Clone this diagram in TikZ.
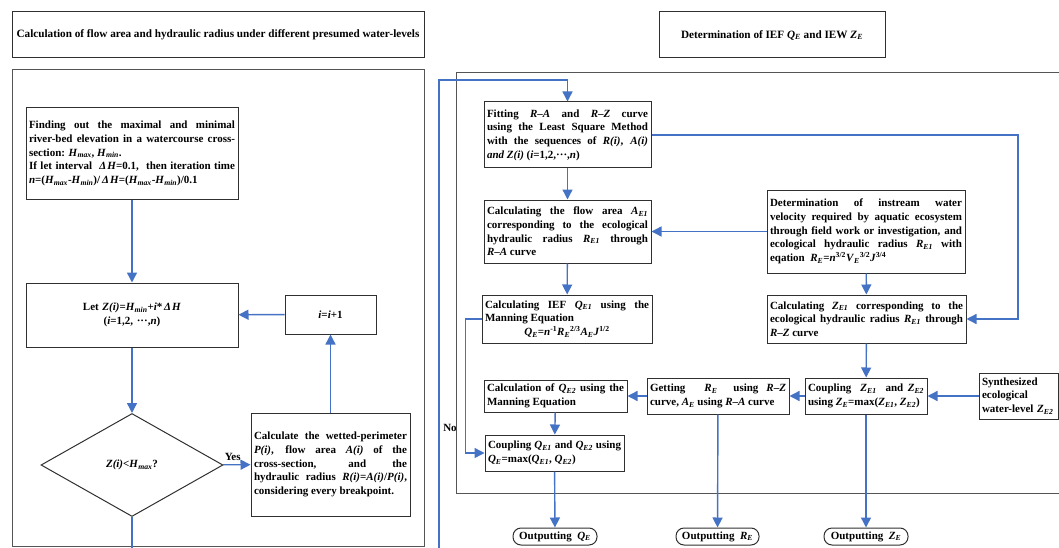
\documentclass[tikz,border=0pt]{standalone}
\usepackage{fontspec}
\setmainfont{Liberation Serif}
\usetikzlibrary{shapes.geometric, arrows.meta, calc}

\definecolor{flowblue}{HTML}{4472C4}
\definecolor{boxgray}{HTML}{303030}
\definecolor{framegray}{HTML}{555555}

\newcommand{\vsub}[2]{\textit{#1}\textsubscript{\textit{#2}}}
\newcommand{\dlH}{\textit{Δ\kern.1em H}}
\newcommand{\cdotsrow}{\textperiodcentered\textperiodcentered\textperiodcentered}
\hyphenpenalty=10000
\tolerance=9999

\begin{document}
\begin{tikzpicture}[x=1pt,y=-1pt,
  every node/.style={font=\bfseries\fontsize{11}{13.7}\selectfont},
  box/.style={draw=boxgray,line width=1pt,rectangle,inner sep=3pt,align=justify},
  hdr/.style={box,align=center,font=\bfseries\fontsize{11.2}{13.7}\selectfont,minimum height=46pt},
  test/.style={draw=boxgray,line width=1pt,shape=diamond,inner sep=0pt},
  outbox/.style={draw=boxgray,line width=1pt,rounded corners=8pt,inner sep=1pt,minimum height=17pt},
  flow/.style={draw=flowblue,line width=1.4pt,-{Triangle[length=10pt,width=10pt]}},
  link/.style={draw=flowblue,line width=1.4pt}]
  \useasboundingbox (0,0) rectangle (1059,548);
  % the two frames
  \draw[framegray,line width=1pt] (12,70) rectangle (424,546);
  \draw[framegray,line width=1pt] (456,73) rectangle (1075,493);
  \node[hdr,minimum width=412pt] (hdrl) at (218,35) {Calculation of flow area and hydraulic radius under different presumed water-levels};
  \node[hdr,minimum width=226pt] (hdrr) at (772,35) {Determination of IEF \vsub{Q}{E} and IEW \vsub{Z}{E}};

  % left part
  \node[box,text width=206pt,minimum height=91pt] (find) at (132,153.5) {Finding out the maximal and minimal\linebreak river-bed elevation in a watercourse cross-\linebreak section: \vsub{H}{max}, \vsub{H}{min}.\\ If let interval \ \dlH=0.1, \ then iteration time\linebreak \textit{n}=(\vsub{H}{max}-\vsub{H}{min})/\,\dlH=(\vsub{H}{max}-\vsub{H}{min})/0.1};
  \node[box,align=center,text width=206pt,minimum height=64pt] (letz) at (132,315) {Let \textit{Z(i)}=\vsub{H}{min}+\textit{i}*\,\dlH\\(\textit{i}=1,2, \cdotsrow,\textit{n})};
  \node[box,align=center,text width=85pt,minimum height=39pt] (incr) at (330.5,314.5) {\textit{i}=\textit{i}+1};
  \node[test,minimum width=182pt,minimum height=103pt] (cmp) at (132,465) {\textit{Z(i)}<\vsub{H}{max}?};
  \node[box,text width=153pt,minimum height=103pt] (wet) at (330.5,464.5) {Calculate the wetted-perimeter\linebreak \textit{P(i)}, flow area \textit{A(i)} of the\linebreak cross-section, and the\linebreak hydraulic radius \textit{R(i)}=\textit{A(i)}/\textit{P(i)},\linebreak considering every breakpoint.};
  \draw[flow] (find) -- (letz);
  \draw[flow] (letz) -- (cmp);
  \draw[flow] (cmp) -- node[above,pos=.35] {Yes} (wet);
  \draw[flow] (wet) -- (incr);
  \draw[flow] (incr) -- (letz);

  % right part
  \node[box,text width=161pt,minimum height=66pt] (fit) at (567.5,135) {Fitting \textit{R}–\textit{A} and \textit{R}–\textit{Z} curve\linebreak using the Least Square Method\linebreak with the sequences of \textit{R(i)}, \textit{A(i)}\linebreak \textit{and Z(i)} (\textit{i}=1,2,\cdotsrow,\textit{n})};
  \node[box,text width=161pt,minimum height=63pt] (area) at (567.5,231.5) {Calculating the flow area \vsub{A}{E1}\linebreak corresponding to the ecological\linebreak hydraulic radius \vsub{R}{E1} through\linebreak \textit{R}–\textit{A} curve};
  \node[box,text width=192pt,minimum height=83pt] (velo) at (866,231.5) {Determination of instream water\linebreak velocity required by aquatic ecosystem\linebreak through field work or investigation, and\linebreak ecological hydraulic radius \vsub{R}{E1} with\linebreak eqation \ \vsub{R}{E}=\textit{n}\textsuperscript{3/2}\vsub{V}{E}\textsuperscript{3/2}\textit{J}\textsuperscript{3/4}};
  \node[box,text width=164pt,minimum height=48pt] (qone) at (567,319) {Calculating IEF \vsub{Q}{E1} using the\linebreak Manning Equation\par{\centering\vsub{Q}{E}=\textit{n}\textsuperscript{-1}\vsub{R}{E}\textsuperscript{2/3}\vsub{A}{E}\textit{J}\textsuperscript{1/2}\par}};
  \node[box,text width=193pt,minimum height=48pt] (zone) at (866.5,319) {Calculating \vsub{Z}{E1} corresponding to the\linebreak ecological hydraulic radius \vsub{R}{E1} through\linebreak \textit{R}–\textit{Z} curve};
  \node[box,text width=137pt,minimum height=32pt] (qtwo) at (555.5,396) {Calculation of \vsub{Q}{E2} using the\linebreak Manning Equation};
  \node[box,text width=136pt,minimum height=36pt] (getre) at (718,396) {Getting \quad \vsub{R}{E} \ using \textit{R}–\textit{Z}\linebreak curve, \vsub{A}{E} using \textit{R}–\textit{A} curve};
  \node[box,text width=116pt,minimum height=36pt] (cplz) at (866,396) {Coupling \ \vsub{Z}{E1} \ and \vsub{Z}{E2}\linebreak using \vsub{Z}{E}=max(\vsub{Z}{E1}, \vsub{Z}{E2})};
  \node[box,align=left,text width=73pt,minimum height=46pt] (synth) at (1018.5,396) {Synthesized\\ecological\\water-level \vsub{Z}{E2}};
  \node[box,text width=133pt,minimum height=36pt] (cplq) at (554.5,453) {Coupling \vsub{Q}{E1} and \vsub{Q}{E2} using\linebreak \vsub{Q}{E}=max(\vsub{Q}{E1}, \vsub{Q}{E2})};
  \node[outbox,minimum width=84pt] (outq) at (555,536.5) {Outputting \ \vsub{Q}{E}};
  \node[outbox,minimum width=83pt] (outr) at (717.5,536.5) {Outputting \ \vsub{R}{E}};
  \node[outbox,minimum width=84pt] (outz) at (866,536.5) {Outputting \ \vsub{Z}{E}};
  \coordinate (nobend) at (439,80);
  \coordinate (rzbend) at (1018,135);
  \node (nolbl) at (450,428) {No};

  \draw[flow] (cmp.south) -- ++(0,100) -| (nobend) -| (fit.north);
  \draw[flow] (fit) -- (area);
  \draw[flow] (fit.east) -- (rzbend) |- (zone.east);
  \draw[flow] (velo) -- (area);
  \draw[flow] (velo) -- (zone);
  \draw[flow] (area) -- (qone);
  \draw[flow] (qone.west) -- ++(-16,0) |- (cplq.west);
  \draw[flow] (zone) -- (cplz);
  \draw[flow] (synth) -- (cplz);
  \draw[flow] (cplz) -- (getre);
  \draw[flow] (getre) -- (qtwo);
  \draw[flow] (qtwo) -- (cplq);
  \draw[flow] (cplq) -- (outq);
  \draw[flow] (getre) -- (outr);
  \draw[flow] (cplz) -- (outz);
\end{tikzpicture}
\end{document}
